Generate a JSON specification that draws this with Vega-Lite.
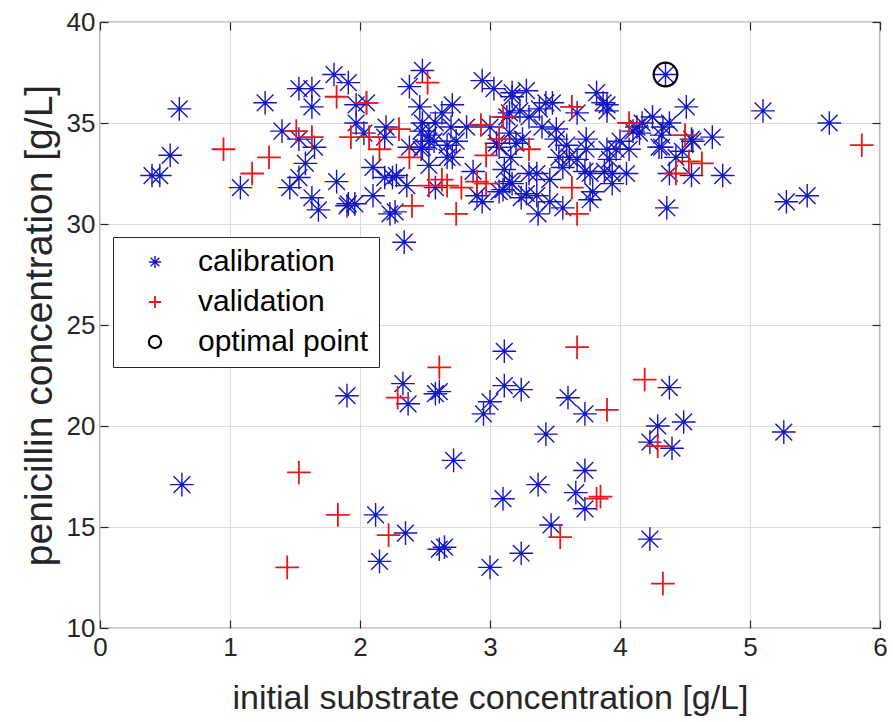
{
  "$schema": "https://vega.github.io/schema/vega-lite/v6.json",
  "width": 780,
  "height": 606,
  "autosize": {"type": "none"},
  "padding": {"left": 100, "top": 22, "right": 13, "bottom": 94},
  "background": "white",
  "config": {
    "font": "Liberation Sans",
    "view": {"stroke": "#262626", "strokeWidth": 1.2},
    "axis": {
      "labelFont": "Liberation Sans",
      "titleFont": "Liberation Sans",
      "labelColor": "#262626",
      "titleColor": "#262626",
      "titleFontWeight": "normal",
      "labelFontSize": 26,
      "titleFontSize": 34,
      "domain": false,
      "tickColor": "#262626",
      "tickSize": -8,
      "tickWidth": 1.2,
      "gridColor": "#dcdcdc",
      "gridWidth": 1
    },
    "legend": {
      "labelFont": "Liberation Sans",
      "labelFontSize": 30,
      "labelColor": "#000000",
      "labelLimit": 0
    }
  },
  "datasets": {
    "pts": [
      {"x":0.63,"y":17.1,"s":"calibration"},{"x":1.90,"y":21.5,"s":"calibration"},{"x":2.33,"y":22.1,"s":"calibration"},{"x":2.37,"y":21.1,"s":"calibration"},{"x":2.58,"y":21.6,"s":"calibration"},{"x":2.61,"y":21.7,"s":"calibration"},{"x":2.95,"y":20.6,"s":"calibration"},{"x":3.00,"y":21.2,"s":"calibration"},{"x":2.72,"y":18.3,"s":"calibration"},{"x":2.12,"y":15.6,"s":"calibration"},{"x":2.35,"y":14.7,"s":"calibration"},{"x":2.15,"y":13.3,"s":"calibration"},{"x":2.61,"y":13.9,"s":"calibration"},{"x":2.65,"y":14.0,"s":"calibration"},{"x":3.00,"y":13.0,"s":"calibration"},{"x":3.10,"y":16.4,"s":"calibration"},{"x":3.11,"y":23.7,"s":"calibration"},{"x":3.11,"y":22.0,"s":"calibration"},{"x":3.24,"y":21.8,"s":"calibration"},{"x":3.60,"y":21.4,"s":"calibration"},{"x":3.73,"y":20.6,"s":"calibration"},{"x":3.43,"y":19.6,"s":"calibration"},{"x":3.73,"y":17.8,"s":"calibration"},{"x":3.66,"y":16.7,"s":"calibration"},{"x":3.73,"y":15.9,"s":"calibration"},{"x":3.37,"y":17.1,"s":"calibration"},{"x":3.47,"y":15.1,"s":"calibration"},{"x":3.24,"y":13.7,"s":"calibration"},{"x":4.38,"y":21.9,"s":"calibration"},{"x":4.29,"y":20.0,"s":"calibration"},{"x":4.49,"y":20.2,"s":"calibration"},{"x":4.23,"y":19.2,"s":"calibration"},{"x":4.40,"y":18.9,"s":"calibration"},{"x":4.23,"y":14.4,"s":"calibration"},{"x":5.26,"y":19.7,"s":"calibration"},
      {"x":0.61,"y":35.7,"s":"calibration"},{"x":0.54,"y":33.4,"s":"calibration"},{"x":0.40,"y":32.4,"s":"calibration"},{"x":0.46,"y":32.4,"s":"calibration"},{"x":1.08,"y":31.8,"s":"calibration"},{"x":1.27,"y":36.0,"s":"calibration"},{"x":1.40,"y":34.6,"s":"calibration"},{"x":1.53,"y":36.7,"s":"calibration"},{"x":1.63,"y":36.7,"s":"calibration"},{"x":1.63,"y":35.8,"s":"calibration"},{"x":1.80,"y":37.4,"s":"calibration"},{"x":1.91,"y":37.0,"s":"calibration"},{"x":1.53,"y":34.2,"s":"calibration"},{"x":1.65,"y":33.8,"s":"calibration"},{"x":1.58,"y":33.0,"s":"calibration"},{"x":1.53,"y":32.3,"s":"calibration"},{"x":1.46,"y":31.8,"s":"calibration"},{"x":1.63,"y":31.3,"s":"calibration"},{"x":1.68,"y":30.7,"s":"calibration"},{"x":1.82,"y":32.1,"s":"calibration"},{"x":1.91,"y":31.0,"s":"calibration"},{"x":1.96,"y":31.0,"s":"calibration"},{"x":1.97,"y":35.0,"s":"calibration"},{"x":2.03,"y":34.5,"s":"calibration"},{"x":2.10,"y":32.8,"s":"calibration"},{"x":2.19,"y":32.3,"s":"calibration"},{"x":2.20,"y":34.8,"s":"calibration"},{"x":2.23,"y":30.5,"s":"calibration"},{"x":2.05,"y":36.0,"s":"calibration"},{"x":1.97,"y":35.9,"s":"calibration"},{"x":2.19,"y":34.3,"s":"calibration"},{"x":2.46,"y":35.8,"s":"calibration"},{"x":2.48,"y":35.0,"s":"calibration"},{"x":2.58,"y":35.0,"s":"calibration"},{"x":2.53,"y":34.4,"s":"calibration"},{"x":2.71,"y":35.9,"s":"calibration"},{"x":2.70,"y":34.8,"s":"calibration"},{"x":2.82,"y":34.8,"s":"calibration"},{"x":2.38,"y":33.8,"s":"calibration"},{"x":2.48,"y":33.8,"s":"calibration"},{"x":2.57,"y":34.1,"s":"calibration"},{"x":2.67,"y":33.9,"s":"calibration"},{"x":2.74,"y":34.1,"s":"calibration"},{"x":2.53,"y":32.9,"s":"calibration"},{"x":2.67,"y":33.3,"s":"calibration"},{"x":2.28,"y":32.4,"s":"calibration"},{"x":2.36,"y":31.9,"s":"calibration"},{"x":2.10,"y":31.4,"s":"calibration"},{"x":1.90,"y":30.9,"s":"calibration"},{"x":2.27,"y":30.6,"s":"calibration"},{"x":2.87,"y":32.6,"s":"calibration"},{"x":2.90,"y":31.4,"s":"calibration"},{"x":2.94,"y":31.1,"s":"calibration"},{"x":2.94,"y":37.1,"s":"calibration"},{"x":3.03,"y":36.7,"s":"calibration"},{"x":2.38,"y":36.8,"s":"calibration"},{"x":2.48,"y":37.6,"s":"calibration"},{"x":2.63,"y":35.5,"s":"calibration"},{"x":2.47,"y":34.6,"s":"calibration"},{"x":2.53,"y":34.1,"s":"calibration"},{"x":2.47,"y":33.7,"s":"calibration"},{"x":2.71,"y":33.3,"s":"calibration"},{"x":2.25,"y":32.3,"s":"calibration"},{"x":2.34,"y":29.1,"s":"calibration"},{"x":2.58,"y":31.8,"s":"calibration"},{"x":3.17,"y":36.5,"s":"calibration"},{"x":3.28,"y":36.6,"s":"calibration"},{"x":3.23,"y":35.6,"s":"calibration"},{"x":3.13,"y":35.3,"s":"calibration"},{"x":3.00,"y":34.8,"s":"calibration"},{"x":3.05,"y":34.0,"s":"calibration"},{"x":3.15,"y":34.5,"s":"calibration"},{"x":3.25,"y":34.2,"s":"calibration"},{"x":3.16,"y":33.3,"s":"calibration"},{"x":3.11,"y":32.7,"s":"calibration"},{"x":3.17,"y":32.0,"s":"calibration"},{"x":3.10,"y":31.7,"s":"calibration"},{"x":3.30,"y":32.5,"s":"calibration"},{"x":3.36,"y":32.5,"s":"calibration"},{"x":3.28,"y":31.5,"s":"calibration"},{"x":3.37,"y":30.5,"s":"calibration"},{"x":3.43,"y":36.0,"s":"calibration"},{"x":3.48,"y":36.0,"s":"calibration"},{"x":3.40,"y":34.8,"s":"calibration"},{"x":3.51,"y":34.2,"s":"calibration"},{"x":3.53,"y":33.3,"s":"calibration"},{"x":3.56,"y":32.8,"s":"calibration"},{"x":3.46,"y":32.2,"s":"calibration"},{"x":3.56,"y":30.8,"s":"calibration"},{"x":3.67,"y":35.5,"s":"calibration"},{"x":3.74,"y":34.2,"s":"calibration"},{"x":3.74,"y":33.7,"s":"calibration"},{"x":3.67,"y":33.2,"s":"calibration"},{"x":3.77,"y":32.5,"s":"calibration"},{"x":3.77,"y":31.2,"s":"calibration"},{"x":3.82,"y":36.5,"s":"calibration"},{"x":3.87,"y":36.0,"s":"calibration"},{"x":3.90,"y":35.6,"s":"calibration"},{"x":3.97,"y":33.7,"s":"calibration"},{"x":3.92,"y":33.2,"s":"calibration"},{"x":3.94,"y":32.5,"s":"calibration"},{"x":4.05,"y":32.5,"s":"calibration"},{"x":4.07,"y":33.7,"s":"calibration"},{"x":4.10,"y":34.6,"s":"calibration"},{"x":4.13,"y":34.8,"s":"calibration"},{"x":4.25,"y":35.3,"s":"calibration"},{"x":4.33,"y":34.8,"s":"calibration"},{"x":4.38,"y":35.0,"s":"calibration"},{"x":4.30,"y":33.8,"s":"calibration"},{"x":4.43,"y":33.3,"s":"calibration"},{"x":4.38,"y":32.5,"s":"calibration"},{"x":4.36,"y":30.8,"s":"calibration"},{"x":4.51,"y":35.8,"s":"calibration"},{"x":3.17,"y":36.3,"s":"calibration"},{"x":3.15,"y":35.5,"s":"calibration"},{"x":3.30,"y":35.3,"s":"calibration"},{"x":3.38,"y":35.7,"s":"calibration"},{"x":3.51,"y":34.7,"s":"calibration"},{"x":3.20,"y":34.0,"s":"calibration"},{"x":3.07,"y":33.8,"s":"calibration"},{"x":3.15,"y":32.1,"s":"calibration"},{"x":3.07,"y":31.6,"s":"calibration"},{"x":3.24,"y":31.3,"s":"calibration"},{"x":3.36,"y":31.4,"s":"calibration"},{"x":3.46,"y":31.1,"s":"calibration"},{"x":3.61,"y":33.3,"s":"calibration"},{"x":3.59,"y":33.9,"s":"calibration"},{"x":3.73,"y":32.6,"s":"calibration"},{"x":3.79,"y":31.6,"s":"calibration"},{"x":3.90,"y":35.9,"s":"calibration"},{"x":3.90,"y":33.7,"s":"calibration"},{"x":4.00,"y":34.1,"s":"calibration"},{"x":3.88,"y":32.6,"s":"calibration"},{"x":3.94,"y":32.0,"s":"calibration"},{"x":4.15,"y":34.5,"s":"calibration"},{"x":4.17,"y":35.0,"s":"calibration"},{"x":5.10,"y":35.6,"s":"calibration"},{"x":5.61,"y":35.0,"s":"calibration"},{"x":4.71,"y":34.3,"s":"calibration"},{"x":4.55,"y":34.2,"s":"calibration"},{"x":4.79,"y":32.4,"s":"calibration"},{"x":4.55,"y":32.4,"s":"calibration"},{"x":5.28,"y":31.1,"s":"calibration"},{"x":5.44,"y":31.4,"s":"calibration"},{"x":4.32,"y":34.4,"s":"calibration"},{"x":4.32,"y":33.8,"s":"calibration"},{"x":4.48,"y":33.6,"s":"calibration"},{"x":4.56,"y":34.1,"s":"calibration"},{"x":4.35,"y":37.4,"s":"calibration"},
      {"x":2.61,"y":22.9,"s":"validation"},{"x":2.29,"y":21.4,"s":"validation"},{"x":1.53,"y":17.7,"s":"validation"},{"x":1.83,"y":15.6,"s":"validation"},{"x":2.22,"y":14.6,"s":"validation"},{"x":1.44,"y":13.0,"s":"validation"},{"x":3.67,"y":23.9,"s":"validation"},{"x":3.90,"y":20.8,"s":"validation"},{"x":4.19,"y":22.3,"s":"validation"},{"x":4.29,"y":19.0,"s":"validation"},{"x":3.82,"y":16.4,"s":"validation"},{"x":3.85,"y":16.5,"s":"validation"},{"x":3.54,"y":14.5,"s":"validation"},{"x":4.33,"y":12.2,"s":"validation"},
      {"x":1.82,"y":36.3,"s":"validation"},{"x":2.05,"y":36.0,"s":"validation"},{"x":1.51,"y":34.6,"s":"validation"},{"x":1.63,"y":34.3,"s":"validation"},{"x":1.93,"y":34.3,"s":"validation"},{"x":2.07,"y":34.3,"s":"validation"},{"x":2.15,"y":33.7,"s":"validation"},{"x":0.95,"y":33.7,"s":"validation"},{"x":1.30,"y":33.3,"s":"validation"},{"x":1.17,"y":32.5,"s":"validation"},{"x":2.30,"y":34.7,"s":"validation"},{"x":2.38,"y":33.3,"s":"validation"},{"x":2.52,"y":37.0,"s":"validation"},{"x":2.53,"y":31.9,"s":"validation"},{"x":2.67,"y":31.9,"s":"validation"},{"x":2.78,"y":31.8,"s":"validation"},{"x":2.90,"y":32.1,"s":"validation"},{"x":2.97,"y":32.0,"s":"validation"},{"x":2.74,"y":30.5,"s":"validation"},{"x":2.40,"y":30.9,"s":"validation"},{"x":2.93,"y":34.9,"s":"validation"},{"x":2.97,"y":33.4,"s":"validation"},{"x":2.63,"y":32.2,"s":"validation"},{"x":3.07,"y":34.2,"s":"validation"},{"x":3.30,"y":33.7,"s":"validation"},{"x":3.63,"y":35.8,"s":"validation"},{"x":3.63,"y":31.8,"s":"validation"},{"x":3.67,"y":30.5,"s":"validation"},{"x":4.07,"y":35.0,"s":"validation"},{"x":4.43,"y":32.5,"s":"validation"},{"x":4.50,"y":34.4,"s":"validation"},{"x":4.53,"y":33.1,"s":"validation"},{"x":4.63,"y":33.0,"s":"validation"},{"x":5.86,"y":33.9,"s":"validation"},{"x":3.10,"y":35.3,"s":"validation"},
      {"x":4.35,"y":37.4,"s":"optimal point"}
    ]
  },
  "data": {"name": "pts"},
  "layer": [
    {
      "mark": {"type": "point", "filled": false, "size": 560, "opacity": 1},
      "encoding": {
        "x": {
          "field": "x", "type": "quantitative",
          "scale": {"domain": [0, 6], "nice": false, "zero": false},
          "axis": {"values": [0, 1, 2, 3, 4, 5, 6], "title": "initial substrate concentration [g/L]", "grid": true, "labelPadding": 14, "titlePadding": 21, "labelFlush": false}
        },
        "y": {
          "field": "y", "type": "quantitative",
          "scale": {"domain": [10, 40], "nice": false, "zero": false},
          "axis": {"values": [10, 15, 20, 25, 30, 35, 40], "title": "penicillin concentration [g/L]", "titleFontSize": 39, "grid": true, "labelPadding": 13, "titlePadding": 7, "labelFlush": false}
        },
        "shape": {
          "field": "s", "type": "nominal",
          "scale": {
            "domain": ["calibration", "validation", "optimal point"],
            "range": ["M-1,0H1M0,-1V1M-0.707,-0.707L0.707,0.707M-0.707,0.707L0.707,-0.707", "M-1,0H1M0,-1V1", "circle"]
          },
          "legend": {
            "title": null,
            "orient": "none",
            "legendX": 13,
            "legendY": 215,
            "strokeColor": "#262626",
            "fillColor": "white",
            "padding": 10,
            "symbolSize": 150,
            "symbolStrokeWidth": 2,
            "symbolOffset": 17,
            "labelOffset": 28,
            "rowPadding": 10,
            "labelLimit": 0
          }
        },
        "color": {
          "field": "s", "type": "nominal",
          "scale": {"domain": ["calibration", "validation", "optimal point"], "range": ["#1414c8", "#f01414", "#000000"]},
          "legend": {
            "title": null,
            "orient": "none",
            "legendX": 13,
            "legendY": 215,
            "labelLimit": 0
          }
        },
        "strokeWidth": {
          "field": "s", "type": "nominal",
          "scale": {"domain": ["calibration", "validation", "optimal point"], "range": [1.4, 2.2, 2.6]},
          "legend": null
        }
      }
    },
    {
      "mark": {"type": "point", "opacity": 0},
      "encoding": {
        "x": {"field": "x", "type": "quantitative", "axis": {"orient": "top", "values": [0, 1, 2, 3, 4, 5, 6], "labels": false, "title": null, "grid": false}},
        "y": {"field": "y", "type": "quantitative", "axis": {"orient": "right", "values": [10, 15, 20, 25, 30, 35, 40], "labels": false, "title": null, "grid": false}}
      }
    }
  ],
  "resolve": {"axis": {"x": "independent", "y": "independent"}}
}
